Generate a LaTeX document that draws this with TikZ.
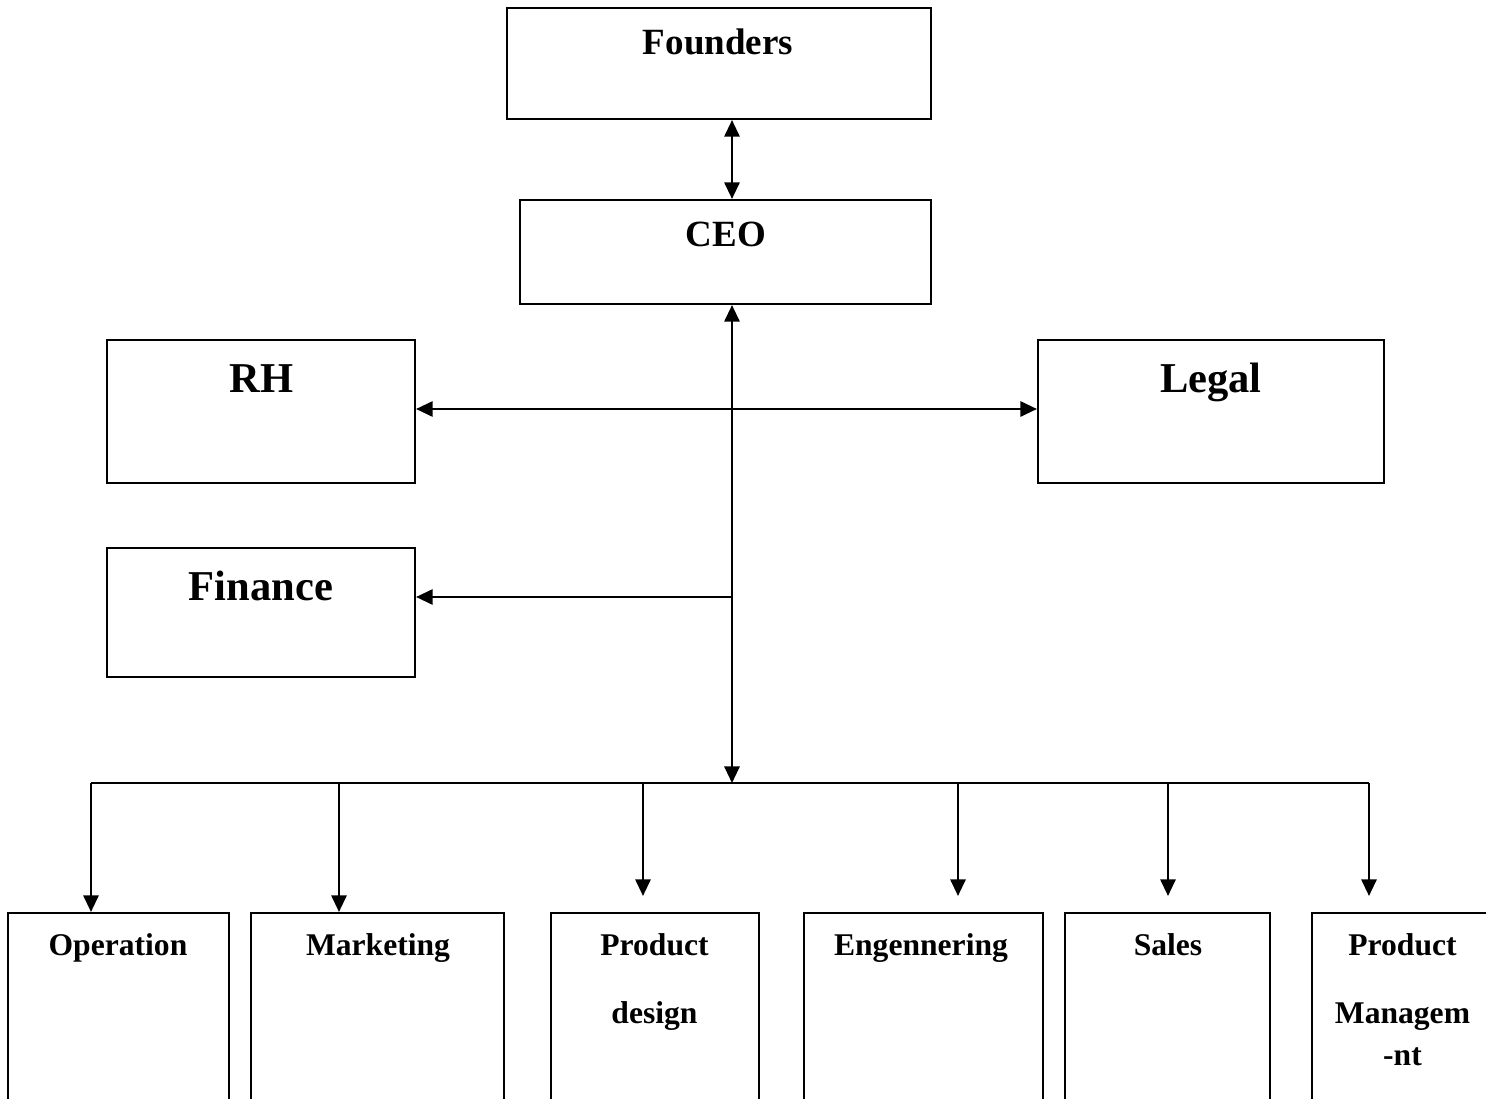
\documentclass[tikz,border=0pt]{standalone}
\usepackage{fontspec}
\setmainfont{Liberation Serif}
\usetikzlibrary{arrows.meta}
\tikzset{
  box/.style={draw=black, line width=1.6pt, rectangle, inner sep=0pt},
  lbl/.style={anchor=base, inner sep=0pt, font=\bfseries},
  topf/.style={lbl, font=\fontsize{27.75}{33}\selectfont\bfseries},
  bigf/.style={lbl, font=\fontsize{31.9}{38}\selectfont\bfseries},
  smf/.style={lbl, font=\fontsize{23.7}{28}\selectfont\bfseries},
  conn/.style={line width=1.6pt, draw=black},
  tip/.tip={Triangle[length=12.5pt,width=11.5pt]}
}
\begin{document}
\begin{tikzpicture}[x=0.75pt,y=-0.75pt]
\useasboundingbox (0,0) rectangle (1486,1099);
\fill[white] (0,0) rectangle (1486,1099);
\clip (0,0) rectangle (1486,1099);

% boxes
\node[box, minimum width=318pt, minimum height=83.25pt] (founders) at (719,63.5) {};
\node[box, minimum width=308.25pt, minimum height=78pt] (ceo) at (725.5,252) {};
\node[box, minimum width=231pt, minimum height=107.25pt] (rh) at (261,411.5) {};
\node[box, minimum width=259.5pt, minimum height=107.25pt] (legal) at (1211,411.5) {};
\node[box, minimum width=231pt, minimum height=96.75pt] (finance) at (261,612.5) {};

\node[box, minimum width=165.75pt, minimum height=155.25pt] (oper) at (118.5,1016.5) {};
\node[box, minimum width=189.75pt, minimum height=155.25pt] (mark) at (377.5,1016.5) {};
\node[box, minimum width=156pt, minimum height=155.25pt] (pdes) at (655,1016.5) {};
\node[box, minimum width=179.25pt, minimum height=155.25pt] (eng) at (923.5,1016.5) {};
\node[box, minimum width=153.75pt, minimum height=155.25pt] (sales) at (1167.5,1016.5) {};
\node[box, minimum width=141pt, minimum height=155.25pt] (pman) at (1406,1016.5) {};

% labels
\node[topf] (tfounders) at (718,55) {Founders};
\node[topf] (tceo) at (726,246) {CEO};
\node[bigf] (trh) at (261.5,392) {RH};
\node[bigf] (tlegal) at (1211,392) {Legal};
\node[bigf] (tfinance) at (261,600) {Finance};

\node[smf] (toper) at (118,955) {Operation};
\node[smf] (tmark) at (378,955) {Marketing};
\node[smf] (tpdes1) at (654.5,955) {Product};
\node[smf] (tpdes2) at (654.5,1023) {design};
\node[smf] (teng) at (921,955) {Engennering};
\node[smf] (tsales) at (1168,955) {Sales};
\node[smf] (tpman1) at (1402.5,955) {Product};
\node[smf] (tpman2) at (1402.5,1023) {Managem};
\node[smf] (tpman3) at (1402.5,1065) {-nt};

% coordinates
\coordinate (sp) at (732,409);
\coordinate (fj) at (732,597);
\coordinate (bj) at (732,783);
\coordinate (b1) at (91,783);
\coordinate (b2) at (339,783);
\coordinate (b3) at (643,783);
\coordinate (b4) at (958,783);
\coordinate (b5) at (1168,783);
\coordinate (b6) at (1369,783);

% connectors
\draw[conn, {tip}-{tip}] (founders.south -| sp) -- (ceo.north -| sp);
\draw[conn, {tip}-{tip}] (ceo.south -| sp) -- (bj);
\draw[conn, {tip}-{tip}] (rh.east |- sp) -- (legal.west |- sp);
\draw[conn, -{tip}] (fj) -- (finance.east |- fj);
\draw[conn] (b1) -- (b6);
\draw[conn, -{tip}] (b1) -- (oper.north -| b1);
\draw[conn, -{tip}] (b2) -- (mark.north -| b2);
\draw[conn, -{tip}] (b3) -- ([yshift=12pt]pdes.north -| b3);
\draw[conn, -{tip}] (b4) -- ([yshift=12pt]eng.north -| b4);
\draw[conn, -{tip}] (b5) -- ([yshift=12pt]sales.north -| b5);
\draw[conn, -{tip}] (b6) -- ([yshift=12pt]pman.north -| b6);
\end{tikzpicture}
\end{document}
